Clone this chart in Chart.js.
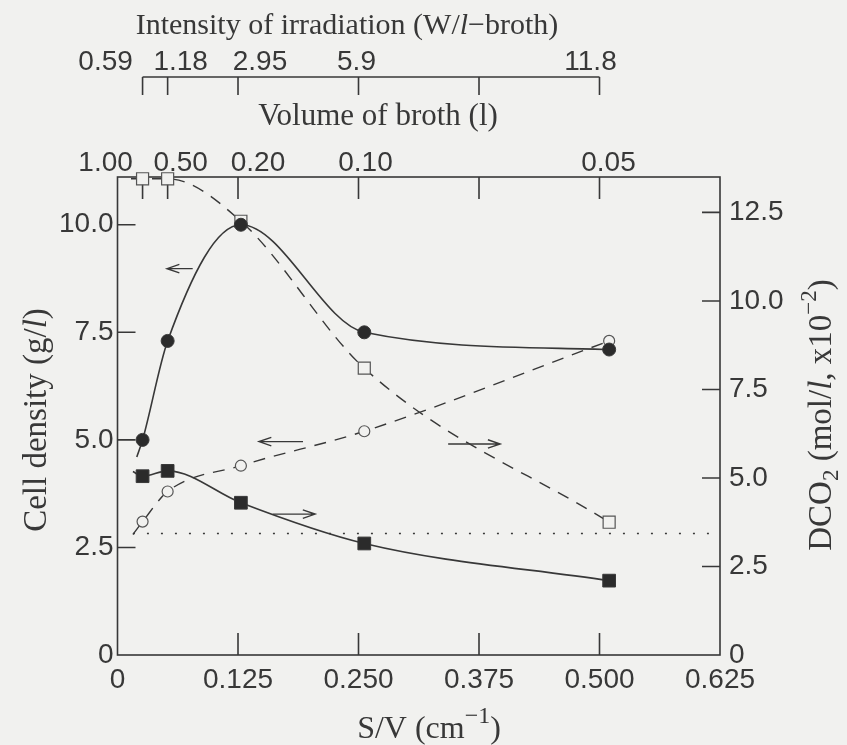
<!DOCTYPE html>
<html>
<head>
<meta charset="utf-8">
<script src="https://cdn.jsdelivr.net/npm/chart.js@4.4.0/dist/chart.umd.min.js"></script>
<style>
  html, body { margin: 0; padding: 0; background: #f1f1ef; }
  #wrap { width: 847px; height: 745px; }
</style>
</head>
<body>
<div id="wrap"><canvas id="chart" width="847" height="745"></canvas></div>
<script>
// data

const svX = [0.026, 0.052, 0.128, 0.256, 0.51]
const cellFilled = [5.0, 7.3, 10.0, 7.5, 7.1]
const cellOpen = [3.1, 3.8, 4.4, 5.2, 7.3]
const dco2Filled = [5.05, 5.2, 4.3, 3.15, 2.1]
const dco2Open = [13.45, 13.45, 12.25, 8.1, 3.75]

// where each drawn curve starts, left of the first marker
const leadX = [0.020, 0.016, 0.016, 0.014]
const leadY = [4.6, 2.8, 5.18, 13.45]

const refLineX = [0.016, 0.625]
const refLineY = [3.43, 3.43]

const xTicks = [0, 0.125, 0.25, 0.375, 0.5, 0.625]
const yTicks = [0, 2.5, 5, 7.5, 10]
const y2Ticks = [0, 2.5, 5, 7.5, 10, 12.5]

// top axes (positions in S/V units)
const topTicks = [0.026, 0.052, 0.125, 0.25, 0.375, 0.5]
const volumeLabels = ['1.00', '0.50', '0.20', '0.10', '', '0.05']
const intensityLabels = ['0.59', '1.18', '2.95', '5.9', '', '11.8']

const ink = '#383838'
const bg = '#f1f1ef'
const tickFont = { family: 'Liberation Sans', size: 28 }

// curve = lead-in point + markers
const curve = (k, ys) => [{ x: leadX[k], y: leadY[k] }].concat(svX.map((x, i) => ({ x: x, y: ys[i] })))
const hideFirst = r => c => c.dataIndex === 0 ? 0 : r

// arrows pointing at the axis each curve belongs to
const arrows = [
  { from: [0.078, 8.98], to: [0.0514, 8.98], axis: 'y' },
  { from: [0.1924, 4.96], to: [0.1468, 4.96], axis: 'y' },
  { from: [0.161, 3.98], to: [0.205, 3.98], axis: 'y2' },
  { from: [0.343, 5.96], to: [0.397, 5.96], axis: 'y2' },
]

function richText(ctx, parts, cx, cy, size) {
  let total = 0
  parts.forEach(p => {
    ctx.font = (p.italic ? 'italic ' : '') + (p.size || size) + 'px "Liberation Serif"'
    p.w = ctx.measureText(p.t).width
    total += p.w
  })
  let x = cx - total / 2
  ctx.textAlign = 'left'
  ctx.textBaseline = 'middle'
  parts.forEach(p => {
    ctx.font = (p.italic ? 'italic ' : '') + (p.size || size) + 'px "Liberation Serif"'
    ctx.fillText(p.t, x, cy + (p.dy || 0))
    x += p.w
  })
}

const framePlugin = {
  id: 'frame',
  beforeDraw(chart) {
    const c = chart.ctx
    c.save()
    c.fillStyle = bg
    c.fillRect(0, 0, chart.width, chart.height)
    c.restore()
  },
  beforeDatasetsDraw(chart) {
    const c = chart.ctx
    const a = chart.chartArea
    const sx = chart.scales.x, sy = chart.scales.y, sy2 = chart.scales.y2
    c.save()
    c.strokeStyle = ink
    c.lineWidth = 1.6
    c.strokeRect(a.left, a.top, a.right - a.left, a.bottom - a.top)

    c.beginPath()
    xTicks.slice(1, -1).forEach(v => {
      const px = sx.getPixelForValue(v)
      c.moveTo(px, a.bottom); c.lineTo(px, a.bottom - 22)
    })
    topTicks.forEach(v => {
      const px = sx.getPixelForValue(v)
      c.moveTo(px, a.top); c.lineTo(px, a.top + 22)
    })
    yTicks.slice(1).forEach(v => {
      const py = sy.getPixelForValue(v)
      c.moveTo(a.left, py); c.lineTo(a.left + 18, py)
    })
    y2Ticks.slice(1).forEach(v => {
      const py = sy2.getPixelForValue(v)
      c.moveTo(a.right, py); c.lineTo(a.right - 18, py)
    })
    c.stroke()

    // intensity axis hanging above
    const lineY = 77
    c.beginPath()
    c.moveTo(sx.getPixelForValue(topTicks[0]), lineY)
    c.lineTo(sx.getPixelForValue(topTicks[topTicks.length - 1]), lineY)
    topTicks.forEach(v => {
      const px = sx.getPixelForValue(v)
      c.moveTo(px, lineY); c.lineTo(px, lineY + 18)
    })
    c.stroke()
    c.restore()
  },
  afterDraw(chart) {
    const c = chart.ctx
    const sx = chart.scales.x
    c.save()
    c.fillStyle = ink
    c.strokeStyle = ink

    // top tick labels
    const volDx = [-37, 13, 20, 7, 0, 9]
    const intDx = [-37, 13, 22, -2, 0, -9]
    c.font = tickFont.size + 'px "Liberation Sans"'
    c.textAlign = 'center'
    c.textBaseline = 'middle'
    topTicks.forEach((v, i) => {
      const px = sx.getPixelForValue(v)
      if (volumeLabels[i]) c.fillText(volumeLabels[i], px + volDx[i], 163)
      if (intensityLabels[i]) c.fillText(intensityLabels[i], px + intDx[i], 62)
    })

    // titles
    richText(c, [{ t: 'Intensity of irradiation (W/' }, { t: 'l', italic: true }, { t: '\u2212broth)' }], 347, 26, 30)
    richText(c, [{ t: 'Volume of broth (l)' }], 378, 117, 31)
    richText(c, [{ t: 'S/V (cm' }, { t: '\u22121', dy: -13, size: 24 }, { t: ')' }], 429, 730, 32)

    c.save()
    c.translate(37, 420)
    c.rotate(-Math.PI / 2)
    richText(c, [{ t: 'Cell density (g/' }, { t: 'l', italic: true }, { t: ')' }], 0, 0, 33)
    c.restore()

    c.save()
    c.translate(822, 415)
    c.rotate(-Math.PI / 2)
    richText(c, [{ t: 'DCO' }, { t: '2', dy: 10, size: 23 }, { t: ' (mol/' }, { t: 'l', italic: true },
      { t: ', x10' }, { t: '\u22122', dy: -12, size: 23 }, { t: ')' }], 0, 0, 33)
    c.restore()

    // arrows
    c.lineWidth = 1.4
    arrows.forEach(ar => {
      const sc = chart.scales[ar.axis]
      const x1 = sx.getPixelForValue(ar.from[0]), y1 = sc.getPixelForValue(ar.from[1])
      const x2 = sx.getPixelForValue(ar.to[0]), y2 = sc.getPixelForValue(ar.to[1])
      const ang = Math.atan2(y2 - y1, x2 - x1)
      c.beginPath()
      c.moveTo(x1, y1); c.lineTo(x2, y2)
      c.moveTo(x2 - 13 * Math.cos(ang - 0.33), y2 - 13 * Math.sin(ang - 0.33))
      c.lineTo(x2, y2)
      c.lineTo(x2 - 13 * Math.cos(ang + 0.33), y2 - 13 * Math.sin(ang + 0.33))
      c.stroke()
    })
    c.restore()
  }
}

const ctx = document.getElementById('chart')

new Chart(ctx, {
  type: 'line',
  data: {
    datasets: [
      {
        label: 'Cell density (filled)',
        data: curve(0, cellFilled),
        yAxisID: 'y',
        borderColor: ink,
        borderWidth: 1.6,
        backgroundColor: '#2b2b2b',
        pointStyle: 'circle',
        pointRadius: hideFirst(6.5),
        pointBorderWidth: 1,
        cubicInterpolationMode: 'monotone',
        clip: false,
      },
      {
        label: 'Cell density (open)',
        data: curve(1, cellOpen),
        yAxisID: 'y',
        borderColor: ink,
        borderWidth: 1.4,
        borderDash: [12, 9],
        backgroundColor: bg,
        pointBorderColor: '#555',
        pointStyle: 'circle',
        pointRadius: hideFirst(5.5),
        pointBorderWidth: 1.2,
        cubicInterpolationMode: 'monotone',
        clip: false,
      },
      {
        label: 'DCO2 (filled)',
        data: curve(2, dco2Filled),
        yAxisID: 'y2',
        borderColor: ink,
        borderWidth: 1.6,
        backgroundColor: '#2b2b2b',
        pointStyle: 'rect',
        pointRadius: hideFirst(9),
        pointBorderWidth: 1,
        cubicInterpolationMode: 'monotone',
        clip: false,
      },
      {
        label: 'DCO2 (open)',
        data: curve(3, dco2Open),
        yAxisID: 'y2',
        borderColor: ink,
        borderWidth: 1.4,
        borderDash: [12, 9],
        backgroundColor: bg,
        pointBorderColor: '#555',
        pointStyle: 'rect',
        pointRadius: hideFirst(8.5),
        pointBorderWidth: 1.2,
        cubicInterpolationMode: 'monotone',
        clip: false,
      },
      {
        label: 'reference',
        data: refLineX.map((x, i) => ({ x: x, y: refLineY[i] })),
        yAxisID: 'y2',
        borderColor: ink,
        borderWidth: 1.6,
        borderDash: [2, 12],
        pointRadius: 0,
      },
    ],
  },
  options: {
    responsive: false,
    animation: false,
    layout: { padding: { top: 177, left: 0, right: 0, bottom: 0 } },
    plugins: {
      legend: { display: false },
      tooltip: { enabled: false },
    },
    scales: {
      x: {
        type: 'linear',
        min: 0,
        max: 0.625,
        afterBuildTicks: s => { s.ticks = xTicks.map(v => ({ value: v })) },
        afterFit: s => { s.height = 90 },
        grid: { display: false, drawTicks: false },
        border: { display: false },
        ticks: {
          padding: 8,
          color: ink,
          font: tickFont,
          autoSkip: false,
          maxRotation: 0,
          callback: v => v === 0 ? '0' : v.toFixed(3),
        },
      },
      y: {
        position: 'left',
        min: 0,
        max: 11.11,
        afterBuildTicks: s => { s.ticks = yTicks.map(v => ({ value: v })) },
        afterFit: s => { s.width = 117.5 },
        grid: { display: false, drawTicks: false },
        border: { display: false },
        ticks: {
          padding: 4,
          color: ink,
          font: tickFont,
          callback: v => v === 0 ? '0' : v.toFixed(1),
        },
      },
      y2: {
        position: 'right',
        min: 0,
        max: 13.5,
        afterBuildTicks: s => { s.ticks = y2Ticks.map(v => ({ value: v })) },
        afterFit: s => { s.width = 127 },
        grid: { display: false, drawTicks: false },
        border: { display: false },
        ticks: {
          padding: 9,
          color: ink,
          font: tickFont,
          callback: v => v === 0 ? '0' : v.toFixed(1),
        },
      },
    },
  },
  plugins: [framePlugin],
})
</script>
</body>
</html>
